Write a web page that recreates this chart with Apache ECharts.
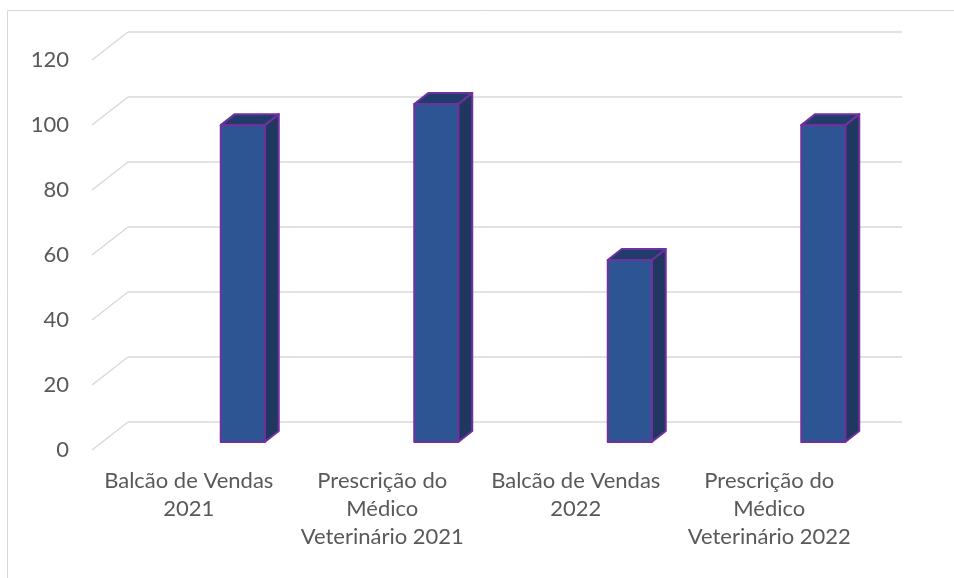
<!DOCTYPE html>
<html>
<head>
<meta charset="utf-8">
<script src="https://cdn.jsdelivr.net/npm/echarts@6/dist/echarts.min.js"></script>
<style>
  html, body { margin: 0; padding: 0; background: #fff; }
  #chart { width: 954px; height: 578px; }
</style>
</head>
<body>
<div id="chart"></div>
<script>
var categories = [
  'Balcão de Vendas\n2021',
  'Prescrição do\nMédico\nVeterinário 2021',
  'Balcão de Vendas\n2022',
  'Prescrição do\nMédico\nVeterinário 2022'
]
var values = [97.5, 104, 56, 97.5]
var yTicks = [0, 20, 40, 60, 80, 100, 120]

var myChart = echarts.init(document.getElementById('chart'))

// depth of the floor (front edge -> back wall)
var depthX = 36, depthY = -28
// bar placement inside the category slot
var barShiftX = 32, barWidth = 44, barShiftY = -8
var barDepthX = 14, barDepthY = -11

var option = {
  animation: false,
  textStyle: { fontFamily: 'Lato' },
  graphic: [{
    type: 'rect',
    shape: { x: 7.5, y: 10.5, width: 960, height: 600 },
    style: { fill: 'none', stroke: '#d9d9d9', lineWidth: 1 },
    silent: true
  }],
  grid: [
    // back wall
    { left: 128, right: 52, top: 32, bottom: 156 },
    // front plane (labels)
    { left: 92, right: 88, top: 60, bottom: 128 }
  ],
  xAxis: [
    { type: 'category', gridIndex: 0, data: categories, show: false },
    {
      type: 'category', gridIndex: 1, data: categories,
      axisLine: { show: false },
      axisTick: { show: false },
      axisLabel: {
        interval: 0,
        margin: 17,
        color: '#595959',
        fontSize: 22,
        lineHeight: 28
      }
    }
  ],
  yAxis: [
    {
      type: 'value', gridIndex: 0, min: 0, max: 120, interval: 20,
      axisLine: { show: false },
      axisTick: { show: false },
      axisLabel: { show: false },
      splitLine: { lineStyle: { color: '#d9d9d9', width: 1.5 } }
    },
    {
      type: 'value', gridIndex: 1, min: 0, max: 120, interval: 20,
      axisLine: { show: false },
      axisTick: { show: false },
      splitLine: { show: false },
      axisLabel: { color: '#595959', fontSize: 22, margin: 23 }
    }
  ],
  series: [
    {
      // diagonal floor/wall lines
      type: 'custom',
      xAxisIndex: 1,
      yAxisIndex: 1,
      data: yTicks.map(function (v) { return [0, v] }),
      silent: true,
      renderItem: function (params, api) {
        var y = api.coord([0, api.value(1)])[1]
        var x = params.coordSys.x
        return {
          type: 'line',
          shape: { x1: x, y1: y, x2: x + depthX, y2: y + depthY },
          style: { stroke: '#d9d9d9', lineWidth: 1.5 }
        }
      }
    },
    {
      type: 'custom',
      xAxisIndex: 1,
      yAxisIndex: 1,
      data: values.map(function (v, i) { return [i, v] }),
      renderItem: function (params, api) {
        var top = api.coord([api.value(0), api.value(1)])
        var base = api.coord([api.value(0), 0])
        var l = top[0] + barShiftX
        var r = l + barWidth
        var t = top[1] + barShiftY
        var b = base[1] + barShiftY
        var edge = { stroke: '#7030a0', lineWidth: 2, lineJoin: 'round' }
        return {
          type: 'group',
          children: [
            {
              type: 'polygon',
              shape: { points: [[r, t], [r + barDepthX, t + barDepthY], [r + barDepthX, b + barDepthY], [r, b]] },
              style: Object.assign({ fill: '#20375f' }, edge)
            },
            {
              type: 'polygon',
              shape: { points: [[l, t], [l + barDepthX, t + barDepthY], [r + barDepthX, t + barDepthY], [r, t]] },
              style: Object.assign({ fill: '#213c6a' }, edge)
            },
            {
              type: 'rect',
              shape: { x: l, y: t, width: barWidth, height: b - t },
              style: Object.assign({ fill: '#2e5593' }, edge)
            }
          ]
        }
      }
    }
  ]
}
myChart.setOption(option)
</script>
</body>
</html>
